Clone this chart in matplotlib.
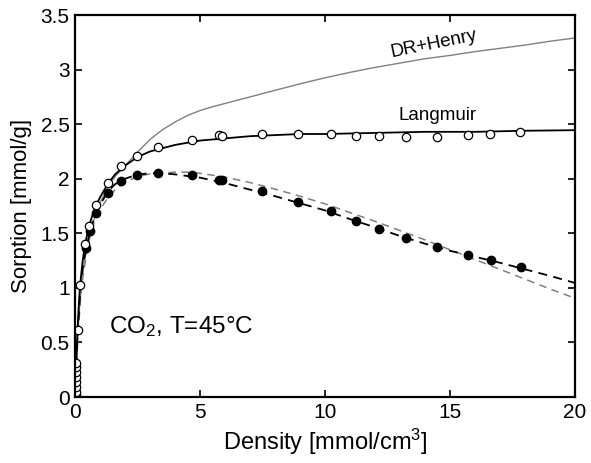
import matplotlib
matplotlib.use("Agg")
import matplotlib.pyplot as plt

plt.rcParams['font.family'] = ['Liberation Sans', 'DejaVu Sans']
plt.rcParams['mathtext.fontset'] = 'custom'
plt.rcParams['mathtext.rm'] = 'Liberation Sans'
plt.rcParams['mathtext.it'] = 'Liberation Sans'

# open circles (excess sorption)
ox = [0.02, 0.02, 0.02, 0.02, 0.02, 0.02, 0.02, 0.02, 0.13, 0.2, 0.4, 0.57, 0.83, 1.31, 1.84,
      2.47, 3.33, 4.67, 5.77, 5.89, 7.49, 8.93, 10.23, 11.24, 12.16, 13.23, 14.47, 15.73, 16.6, 17.8]
oy = [0.016, 0.046, 0.09, 0.137, 0.18, 0.23, 0.276, 0.31, 0.61, 1.03, 1.40, 1.57, 1.76, 1.96, 2.12,
      2.21, 2.29, 2.355, 2.40, 2.39, 2.41, 2.41, 2.41, 2.39, 2.39, 2.38, 2.38, 2.40, 2.41, 2.43]

# filled circles
fx = [0.43, 0.6, 0.83, 1.33, 1.84, 2.47, 3.33, 4.69, 5.77, 5.89, 7.49, 8.9, 10.24, 11.23,
      12.16, 13.23, 14.47, 15.7, 16.63, 17.84]
fy = [1.365, 1.52, 1.69, 1.87, 1.98, 2.03, 2.055, 2.03, 1.99, 1.985, 1.886, 1.79, 1.70, 1.61,
      1.54, 1.457, 1.374, 1.30, 1.255, 1.187]

# Langmuir curve (black solid)
lx = [0, 0.05, 0.1, 0.15, 0.2, 0.3, 0.4, 0.55, 0.7, 0.85, 1.0, 1.3, 1.6, 2.0, 2.5, 3.0, 3.5, 4,
      5, 6, 7, 8, 9, 10, 12, 14, 16, 18, 20]
ly = [0, 0.35, 0.62, 0.85, 1.02, 1.24, 1.40, 1.56, 1.67, 1.76, 1.83, 1.95, 2.04, 2.12, 2.20, 2.25,
      2.28, 2.31, 2.35, 2.37, 2.39, 2.40, 2.41, 2.41, 2.42, 2.43, 2.43, 2.44, 2.445]

# DR+Henry curve (gray solid)
hx = [0, 0.05, 0.1, 0.2, 0.3, 0.4, 0.6, 0.8, 1.0, 1.3, 1.6, 2.0, 2.5, 3.0, 3.5, 4, 4.5, 5, 5.5,
      6, 6.5, 7, 8, 9, 10, 11, 12, 13, 14, 15, 16, 17, 18, 19, 20]
hy = [0, 0.3, 0.55, 0.9, 1.12, 1.28, 1.5, 1.66, 1.78, 1.92, 2.02, 2.12, 2.245, 2.36, 2.45, 2.52,
      2.58, 2.625, 2.66, 2.69, 2.72, 2.75, 2.81, 2.87, 2.925, 2.975, 3.02, 3.06, 3.10, 3.13,
      3.165, 3.195, 3.225, 3.26, 3.29]

# fit of filled points (black dashed)
dx = [0, 0.05, 0.1, 0.2, 0.3, 0.45, 0.6, 0.8, 1.0, 1.3, 1.6, 2.0, 2.5, 3.0, 3.5, 4, 5, 6, 7, 8,
      9, 10, 11, 12, 13, 14, 15, 16, 17, 18, 19, 20]
dy = [0, 0.3, 0.55, 0.95, 1.18, 1.37, 1.52, 1.67, 1.76, 1.88, 1.95, 2.0, 2.04, 2.05, 2.05, 2.04,
      2.01, 1.96, 1.90, 1.84, 1.775, 1.71, 1.63, 1.555, 1.475, 1.405, 1.34, 1.285, 1.23, 1.17,
      1.11, 1.045]

# second fit (gray dashed)
gx = [0, 0.05, 0.1, 0.2, 0.3, 0.45, 0.6, 0.8, 1.0, 1.3, 1.6, 2.0, 2.5, 3.0, 3.5, 4, 4.5, 5, 6,
      7, 8, 9, 10, 11, 12, 13, 14, 15, 16, 17, 18, 19, 20]
gy = [0, 0.25, 0.48, 0.85, 1.08, 1.3, 1.47, 1.63, 1.72, 1.82, 1.90, 1.97, 2.02, 2.045, 2.055,
      2.06, 2.06, 2.05, 2.015, 1.965, 1.905, 1.84, 1.77, 1.69, 1.61, 1.525, 1.44, 1.35, 1.26,
      1.17, 1.08, 0.99, 0.905]

yticks = [0, 0.5, 1, 1.5, 2, 2.5, 3, 3.5]
ytick_labels = ['0', '0.5', '1', '1.5', '2', '2.5', '3', '3.5']
xticks = [0, 5, 10, 15, 20]

fig = plt.figure(figsize=(5.91, 4.63), dpi=100)
ax = fig.add_axes([0.127, 0.1425, 0.846, 0.825])

gray = '#808080'
ax.plot(hx, hy, color=gray, lw=1.0)
ax.plot(gx, gy, color=gray, lw=1.1, ls=(0, (5, 3.5)))
ax.plot(dx, dy, color='k', lw=1.3, ls=(0, (5, 3.5)))
ax.plot(lx, ly, color='k', lw=1.3)
ax.plot(fx, fy, 'o', color='k', ms=6)
ax.plot(ox, oy, 'o', mfc='white', mec='k', mew=0.9, ms=6)

ax.set_xlim(0, 20)
ax.set_ylim(0, 3.5)
ax.set_xticks(xticks)
ax.set_xticklabels([str(t) for t in xticks])
ax.set_yticks(yticks)
ax.set_yticklabels(ytick_labels)
ax.tick_params(direction='in', length=5, width=1.2, top=True, right=True, labelsize=15, pad=4)
for s in ax.spines.values():
    s.set_linewidth(1.6)

ax.set_xlabel('Density [mmol/cm$^3$]', fontsize=17, labelpad=4)
ax.set_ylabel('Sorption [mmol/g]', fontsize=16, labelpad=6)

ax.text(14.36, 3.24, 'DR+Henry', fontsize=13.5, rotation=11.5, ha='center', va='center',
        rotation_mode='anchor')
ax.text(14.5, 2.58, 'Langmuir', fontsize=13.5, ha='center', va='center')
ax.text(1.37, 0.644, 'CO$_2$, T=45°C', fontsize=17.5, ha='left', va='center')

fig.savefig('out.png', dpi=100)
